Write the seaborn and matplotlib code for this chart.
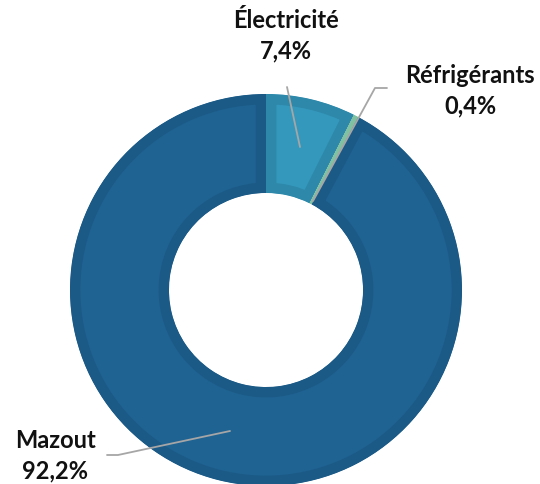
import matplotlib
matplotlib.use("Agg")
import matplotlib.pyplot as plt
import seaborn as sns

categories = ["Électricité", "Réfrigérants", "Mazout"]
values = [7.4, 0.4, 92.2]
value_labels = ["7,4%", "0,4%", "92,2%"]

fill_colors = ["#3498BC", "#7FC1A0", "#1F6392"]
edge_colors = ["#2E88AA", "#7FC1A0", "#1B5A87"]

sns.set_theme(style="white")
plt.rcParams["font.family"] = ["Lato", "DejaVu Sans"]

W, H = 540, 484
fig = plt.figure(figsize=(W / 100, H / 100), dpi=100)
ax = fig.add_axes([0, 0, 1, 1])
cx, cy, R = 266, 290, 196  # pixels (y from top)

wedges, _ = ax.pie(values, startangle=90, counterclock=False, radius=1.0,
                   colors=fill_colors,
                   wedgeprops=dict(width=0.505, linewidth=0))
ax.set_xlim(-cx / R, (W - cx) / R)
ax.set_ylim(-(H - cy) / R, cy / R)
ax.set_aspect("equal")
ax.axis("off")

for w, ec in zip(wedges, edge_colors):
    w.set_edgecolor(ec)
    w.set_linewidth(15)
    w.set_clip_on(True)
    w.set_clip_path(w)


def px(x, y):
    return ((x - cx) / R, (cy - y) / R)


line_kw = dict(color="#A6A6A6", lw=1.3, zorder=5)
# Électricité leader
p = [px(287, 87), px(300, 147)]
ax.plot([q[0] for q in p], [q[1] for q in p], **line_kw)
# Réfrigérants leader
p = [px(313, 201), px(375, 88), px(387, 88)]
ax.plot([q[0] for q in p], [q[1] for q in p], **line_kw)
# Mazout leader
p = [px(107, 455), px(118, 455), px(230, 431)]
ax.plot([q[0] for q in p], [q[1] for q in p], **line_kw)

label_pos = [(286, 21), (470, 76), (55, 441)]
for cat, vl, (x, y) in zip(categories, value_labels, label_pos):
    tx, ty = px(x, y)
    ax.text(tx, ty, cat, ha="center", va="center", fontsize=17,
            fontweight="bold", color="#111111")
    tx, ty = px(x, y + 30)
    ax.text(tx, ty, vl, ha="center", va="center", fontsize=17,
            fontweight="bold", color="#111111")

fig.savefig("out.png", dpi=100)
